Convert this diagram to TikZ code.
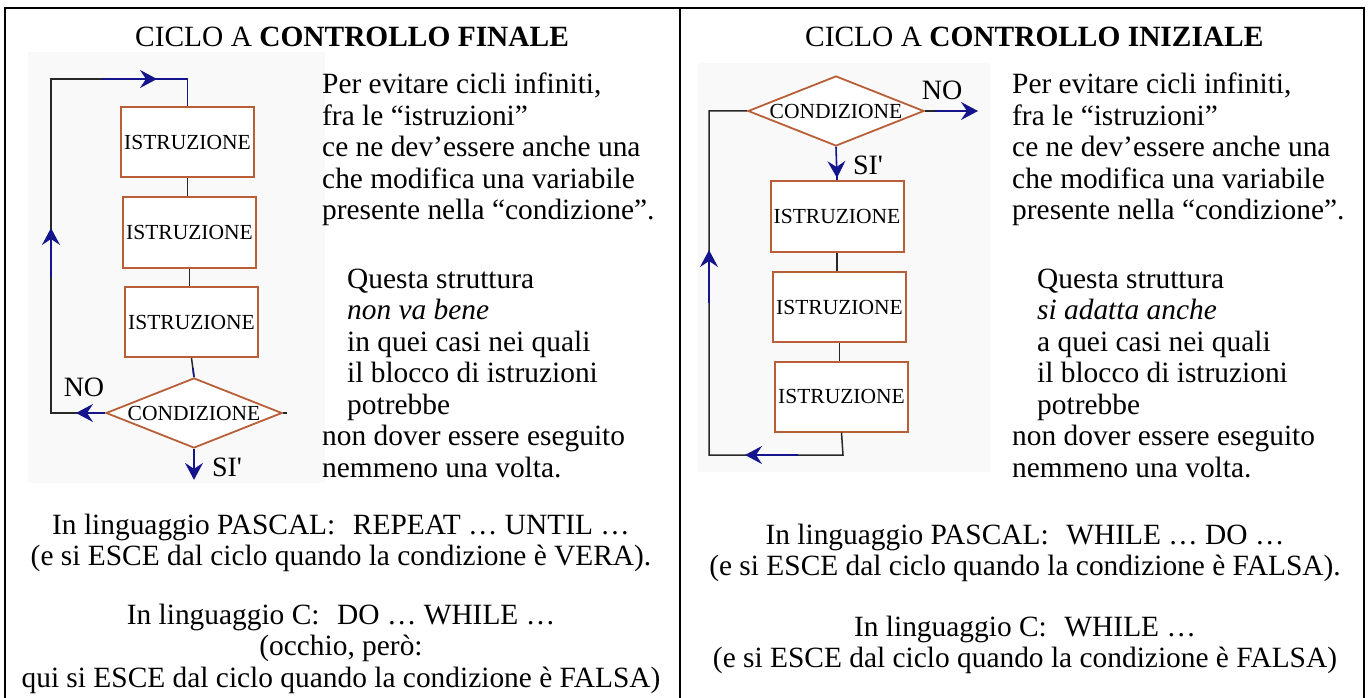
\documentclass[tikz,border=0pt]{standalone}
\usepackage{fontspec}
\setmainfont{Liberation Serif}
\newfontfamily\fcfam{Liberation Serif}
\usetikzlibrary{arrows.meta,shapes.geometric}
\definecolor{navy}{RGB}{20,20,140}
\definecolor{boxbrown}{RGB}{185,95,55}
\definecolor{lineblk}{RGB}{40,40,40}
\definecolor{imgbg}{RGB}{249,249,249}
\newcommand{\txtfont}{\fontsize{29.4}{31.5}\selectfont}
\newcommand{\fcfont}{\fcfam\fontsize{21.5}{21.5}\selectfont}
\newcommand{\lblfont}{\fcfam\fontsize{28}{28}\selectfont}
\begin{document}
\begin{tikzpicture}[x=1pt,y=-1pt,
  frame/.style={line width=2pt, black},
  instr/.style={draw=boxbrown, line width=2pt, fill=white, minimum width=133pt, minimum height=70pt, inner sep=0pt, font=\fcfont},
  cond/.style={diamond, aspect=2.514, draw=boxbrown, line width=1.8pt, fill=white, minimum width=176pt, minimum height=70pt, inner sep=0pt, font=\fcfont},
  link/.style={lineblk, line width=1.5pt},
  flow/.style={navy, line width=1.6pt},
  tip/.style={-{Stealth[length=17pt,width=18pt,inset=6pt]}},
  lbl/.style={font=\lblfont, inner sep=0pt},
  txt/.style={font=\txtfont, inner sep=0pt, anchor=base west},
  ctr/.style={font=\txtfont, inner sep=0pt, anchor=base}
]
\useasboundingbox (0,0) rectangle (1369,698);
\fill[white] (0,0) rectangle (1369,698);
% frame
\draw[frame] (4.5,698) -- (4.5,8.5) -- (1364,8.5) -- (1364,698);
\draw[frame] (679.5,8.5) -- (679.5,698);

% ---------- left panel ----------
\node[txt] (LTitle) at (135,47) {CICLO A \textbf{CONTROLLO FINALE}};
\fill[imgbg] (28,52) rectangle (325,483);
\node[instr] (L1) at (187.5,142) {ISTRUZIONE};
\node[instr] (L2) at (189.5,232.5) {ISTRUZIONE};
\node[instr] (L3) at (191.5,322) {ISTRUZIONE};
\node[cond] (LC) at (194,413) {CONDIZIONE};
\coordinate (Lbl) at (51,413);
\coordinate (Ltl) at (51,79);
\coordinate (Ltr) at (187.5,79);
\coordinate (Lm) at (193,368);
\draw[link] (L1.south) -- (L1.south |- L2.north);
\draw[link] (L2.south) -- (L2.south |- L3.north);
\draw[link] (L3.south) -- (LC.north);
\draw[link] (LC.west) -- (Lbl) -- (Ltl) -- (Ltr) -- (L1.north);
\draw[link] (LC.east) -- ++(4,0);
\draw[flow] (Lm) -- (LC.north);
\draw[flow,tip] (LC.west) -- (76,413);
\draw[flow,tip] (51,277) -- (51,228);
\draw[flow,tip] (102,79) -- (157,79);
\draw[flow] (155,79) -- (Ltr) -- (L1.north);
\draw[flow,tip] (LC.south) -- ++(0,31);
\node[lbl] (LNO) at (84,387) {NO};
\node[lbl] (LSI) at (227,467) {SI'};

\node[txt] (LT1) at (322,94) {\parbox[t]{355pt}{Per evitare cicli infiniti,\\fra le “istruzioni”\\ce ne dev’essere anche una\\che modifica una variabile\\presente nella “condizione”.}};
\node[txt] (LT2) at (322,288) {\parbox[t]{355pt}{\hspace*{25pt}Questa struttura\\\hspace*{25pt}\textit{non va bene}\\\hspace*{25pt}in quei casi nei quali\\\hspace*{25pt}il blocco di istruzioni\\\hspace*{25pt}potrebbe\\non dover essere eseguito\\nemmeno una volta.}};
\node[ctr] (LB1) at (341,534) {\parbox[t]{660pt}{\centering In linguaggio PASCAL:\hspace{0.6em}REPEAT … UNTIL …\\(e si ESCE dal ciclo quando la condizione è VERA).}};
\node[ctr] (LB2) at (341,624) {\parbox[t]{660pt}{\centering In linguaggio C:\hspace{0.6em}DO … WHILE …\\(occhio, però:\\qui si ESCE dal ciclo quando la condizione è FALSA)}};

% ---------- right panel ----------
\node[txt] (RTitle) at (805,47) {CICLO A \textbf{CONTROLLO INIZIALE}};
\fill[imgbg] (698,63) rectangle (990,472);
\node[cond] (RC) at (836,111) {CONDIZIONE};
\node[instr] (R1) at (837,216.5) {ISTRUZIONE};
\node[instr] (R2) at (839.5,307) {ISTRUZIONE};
\node[instr] (R3) at (841.5,396.5) {ISTRUZIONE};
\coordinate (Rtl) at (709,111);
\coordinate (Rbl) at (709,455);
\coordinate (Rbr) at (843,455);
\draw[link] (R1.south) -- (R1.south |- R2.north);
\draw[link] (R2.south) -- (R2.south |- R3.north);
\draw[link] (RC.west) -- (Rtl) -- (Rbl) -- (Rbr) -- (R3.south);
\draw[link] (RC.east) -- (935,111);
\draw[flow,tip] (935,111) -- (978,111);
\draw[flow,tip] (RC.south) -- (837,178);
\draw[flow] (837,175) -- (R1.north);
\draw[flow,tip] (709,303) -- (709,250);
\draw[flow,tip] (798,455) -- (745,455);
\node[lbl] (RNO) at (942,90) {NO};
\node[lbl] (RSI) at (868,165) {SI'};

\node[txt] (RT1) at (1012,94) {\parbox[t]{350pt}{Per evitare cicli infiniti,\\fra le “istruzioni”\\ce ne dev’essere anche una\\che modifica una variabile\\presente nella “condizione”.}};
\node[txt] (RT2) at (1012,288) {\parbox[t]{350pt}{\hspace*{25pt}Questa struttura\\\hspace*{25pt}\textit{si adatta anche}\\\hspace*{25pt}a quei casi nei quali\\\hspace*{25pt}il blocco di istruzioni\\\hspace*{25pt}potrebbe\\non dover essere eseguito\\nemmeno una volta.}};
\node[ctr] (RB1) at (1025,544) {\parbox[t]{660pt}{\centering In linguaggio PASCAL:\hspace{0.6em}WHILE … DO …\\(e si ESCE dal ciclo quando la condizione è FALSA).}};
\node[ctr] (RB2) at (1025,636) {\parbox[t]{660pt}{\centering In linguaggio C:\hspace{0.6em}WHILE …\\(e si ESCE dal ciclo quando la condizione è FALSA)}};
\end{tikzpicture}
\end{document}
